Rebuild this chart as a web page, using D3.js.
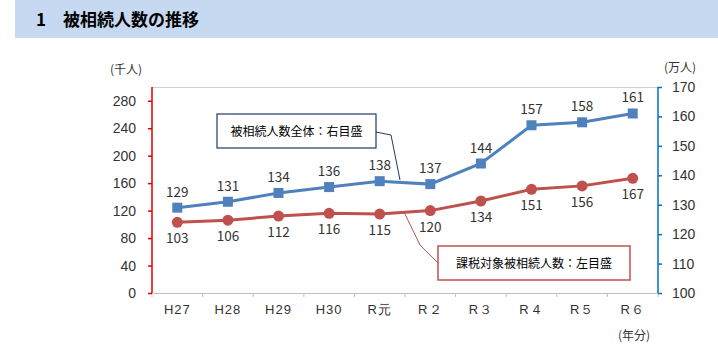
<!DOCTYPE html>
<html><head><meta charset="utf-8">
<script src="https://cdn.jsdelivr.net/npm/d3@7"></script>
<style>
body{margin:0;background:#fff;}
svg{display:block;font-family:"Noto Sans CJK JP","Noto Sans",sans-serif;}
</style></head>
<body><svg id="c" width="718" height="350"></svg>
<script>
const categories = ["H27","H28","H29","H30","R元","R２","R３","R４","R５","R６"];
const totalAll = [129,131,134,136,138,137,144,157,158,161];      // 万人, right axis
const taxable = [103,106,112,116,115,120,134,151,156,167];       // 千人, left axis
const leftTicks = [0,40,80,120,160,200,240,280];
const rightTicks = [100,110,120,130,140,150,160,170];

const svg = d3.select("#c");
const L = 152, R = 658, T = 87, B = 293;

// header band
svg.append("rect").attr("x",15).attr("y",0).attr("width",703).attr("height",38).attr("fill","#c6d9f1");
svg.append("text").attr("x",36).attr("y",26).attr("font-size",17).attr("font-weight","bold").attr("fill","#000")
  .text("1　被相続人数の推移");

const x = d3.scaleBand().domain(categories).range([L,R]);
const yL = d3.scaleLinear().domain([0,300]).range([B,T]);
const yR = d3.scaleLinear().domain([100,170]).range([B,T]);

// frame top
svg.append("line").attr("x1",L).attr("x2",R).attr("y1",T+0.5).attr("y2",T+0.5).attr("stroke","#d0d0d0");

// x axis
const xa = svg.append("g").attr("transform",`translate(0,${B})`)
  .call(d3.axisBottom(x).tickSize(0).tickFormat(d=>d));
xa.select(".domain").attr("stroke","#bfbfbf");
xa.selectAll("text").attr("font-size",13).attr("fill","#333").attr("dy","1.35em").attr("letter-spacing","1px");
categories.concat(["__end"]).forEach((c,i)=>{
  const xx = L + i*x.bandwidth();
  svg.append("line").attr("x1",xx).attr("x2",xx).attr("y1",B).attr("y2",B+4).attr("stroke","#bfbfbf");
});
svg.append("text").attr("x",634).attr("y",340).attr("font-size",12).attr("text-anchor","middle").attr("fill","#333").text("(年分)");

// left axis
const la = svg.append("g").attr("transform",`translate(${L},0)`)
  .call(d3.axisLeft(yL).tickValues(leftTicks).tickSize(4).tickPadding(12));
la.select(".domain").attr("stroke","#e00000").attr("stroke-width",1.5).attr("d",`M0,${T}V${B}`);
la.selectAll(".tick line").attr("stroke","#e00000").attr("stroke-width",1.5);
la.selectAll("text").attr("font-size",14).attr("fill","#333");
svg.append("text").attr("x",126).attr("y",74).attr("font-size",12).attr("text-anchor","middle").attr("fill","#333").text("(千人)");

// right axis
const ra = svg.append("g").attr("transform",`translate(${R},0)`)
  .call(d3.axisRight(yR).tickValues(rightTicks).tickSize(4).tickPadding(10));
ra.select(".domain").attr("stroke","#0070c0").attr("stroke-width",1.5).attr("d",`M0,${T}V${B}`);
ra.selectAll(".tick line").attr("stroke","#0070c0").attr("stroke-width",1.5);
ra.selectAll("text").attr("font-size",14).attr("fill","#333");
svg.append("text").attr("x",680).attr("y",72).attr("font-size",12).attr("text-anchor","middle").attr("fill","#333").text("(万人)");

const cx = d => x(d) + x.bandwidth()/2;
const blue = "#4f81bd", red = "#c0504d";

// blue series
svg.append("path").datum(totalAll.map((v,i)=>[cx(categories[i]), yR(v)]))
  .attr("d", d3.line()).attr("fill","none").attr("stroke",blue).attr("stroke-width",3);
svg.selectAll(".sq").data(totalAll).enter().append("rect")
  .attr("x",(d,i)=>cx(categories[i])-5).attr("y",d=>yR(d)-5).attr("width",10).attr("height",10).attr("fill",blue);
svg.selectAll(".bl").data(totalAll).enter().append("text")
  .attr("x",(d,i)=>cx(categories[i])).attr("y",d=>yR(d)-11).attr("text-anchor","middle")
  .attr("font-size",13.5).attr("fill","#333").text(d=>d);

// red series
svg.append("path").datum(taxable.map((v,i)=>[cx(categories[i]), yL(v)]))
  .attr("d", d3.line()).attr("fill","none").attr("stroke",red).attr("stroke-width",3);
svg.selectAll(".ci").data(taxable).enter().append("circle")
  .attr("cx",(d,i)=>cx(categories[i])).attr("cy",d=>yL(d)).attr("r",5.5).attr("fill",red);
svg.selectAll(".rl").data(taxable).enter().append("text")
  .attr("x",(d,i)=>cx(categories[i])).attr("y",d=>yL(d)+21).attr("text-anchor","middle")
  .attr("font-size",13.5).attr("fill","#333").text(d=>d);

// callouts
svg.append("polyline").attr("points","376,132 391,135 400,180").attr("fill","none").attr("stroke","#1f3a68").attr("stroke-width",1);
svg.append("rect").attr("x",217).attr("y",114).attr("width",159).attr("height",34).attr("fill","#fff").attr("stroke","#1f3a68").attr("stroke-width",1.2);
svg.append("text").attr("x",296.5).attr("y",136).attr("text-anchor","middle").attr("font-size",12).attr("fill","#000").text("被相続人数全体：右目盛");

svg.append("polyline").attr("points","404,212 420,245 438,263").attr("fill","none").attr("stroke",red).attr("stroke-width",1);
svg.append("rect").attr("x",438).attr("y",246).attr("width",192).attr("height",34).attr("fill","#fff").attr("stroke",red).attr("stroke-width",1.5);
svg.append("text").attr("x",534).attr("y",268).attr("text-anchor","middle").attr("font-size",12).attr("fill","#000").text("課税対象被相続人数：左目盛");
</script></body></html>
